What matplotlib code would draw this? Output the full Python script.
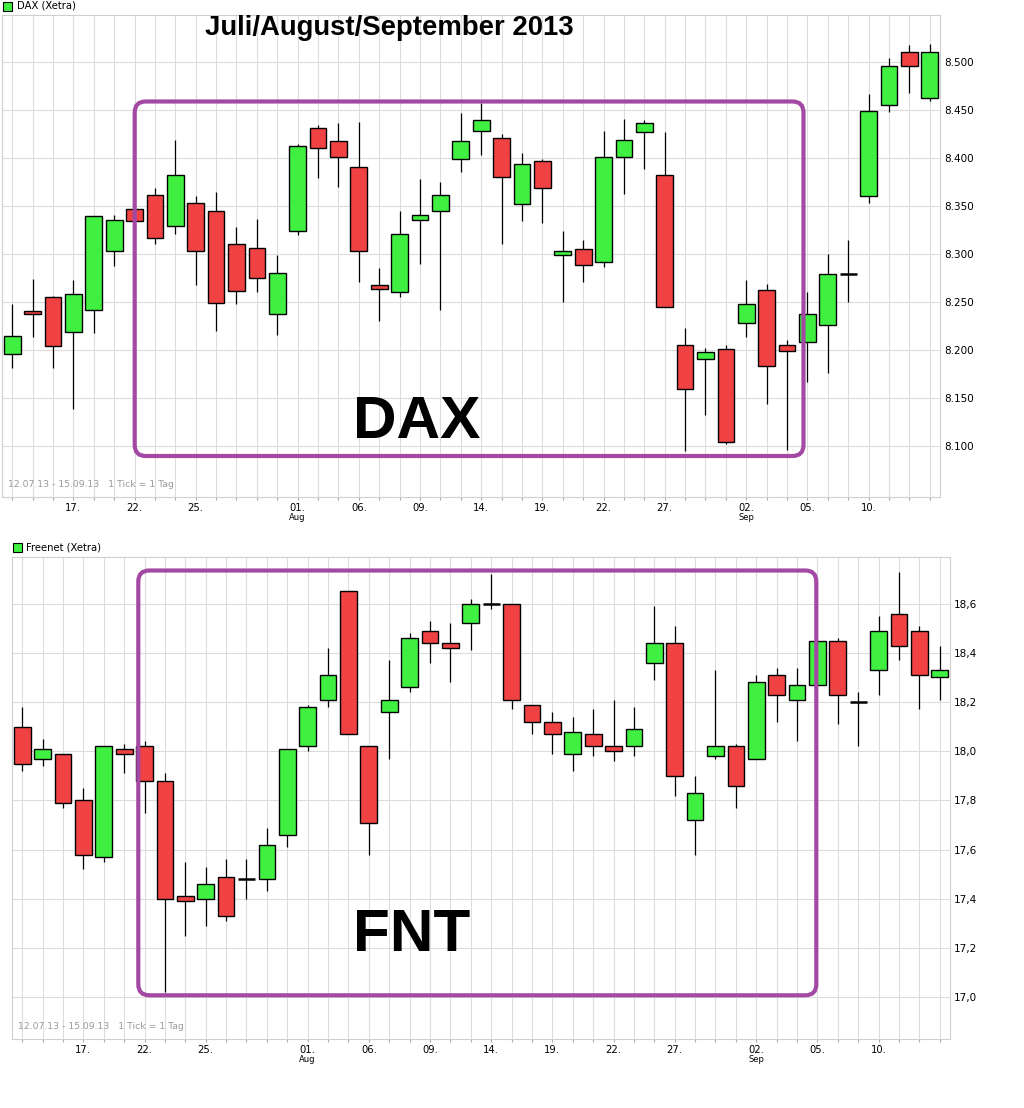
import numpy as np
import matplotlib.pyplot as plt
from matplotlib.patches import FancyBboxPatch, Rectangle
from matplotlib.transforms import IdentityTransform

plt.close("all")

# trading days 12.07.13 - 13.09.13 (index positions on the x axis)
tick_pos = [3, 6, 9, 14, 17, 20, 23, 26, 29, 32, 36, 39, 42]
tick_lbl = ["17.", "22.", "25.", "01.", "06.", "09.", "14.", "19.", "22.", "27.", "02.", "05.", "10."]
month_pos = [14, 36]
month_lbl = ["Aug", "Sep"]

# DAX (Xetra)
dax_open = [8196, 8241, 8255, 8219, 8242, 8303, 8347, 8362, 8329, 8353,
            8345, 8310, 8306, 8238, 8324, 8431, 8418, 8391, 8268, 8260,
            8336, 8345, 8399, 8428, 8421, 8352, 8397, 8299, 8305, 8292,
            8401, 8427, 8382, 8205, 8191, 8201, 8228, 8263, 8205, 8208,
            8226, 8279, 8361, 8455, 8510, 8463]
dax_high = [8248, 8274, 8256, 8273, 8340, 8341, 8347, 8369, 8419, 8360,
            8365, 8328, 8337, 8299, 8415, 8434, 8437, 8438, 8285, 8345,
            8378, 8375, 8447, 8457, 8425, 8405, 8399, 8324, 8315, 8428,
            8441, 8440, 8427, 8223, 8202, 8205, 8273, 8269, 8210, 8261,
            8300, 8315, 8467, 8504, 8518, 8519]
dax_low = [8181, 8214, 8181, 8139, 8218, 8288, 8334, 8310, 8321, 8268,
           8220, 8248, 8260, 8216, 8320, 8379, 8370, 8271, 8230, 8255,
           8290, 8242, 8386, 8403, 8311, 8334, 8332, 8250, 8271, 8287,
           8363, 8389, 8245, 8095, 8132, 8102, 8214, 8144, 8096, 8167,
           8176, 8250, 8353, 8448, 8468, 8459]
dax_close = [8215, 8238, 8204, 8258, 8340, 8335, 8334, 8317, 8382, 8303,
             8249, 8262, 8275, 8280, 8413, 8410, 8401, 8303, 8264, 8321,
             8341, 8362, 8418, 8440, 8380, 8394, 8369, 8303, 8289, 8401,
             8419, 8437, 8245, 8160, 8198, 8104, 8248, 8183, 8199, 8238,
             8279, 8279, 8449, 8496, 8496, 8510]
dax_ticks = [8100, 8150, 8200, 8250, 8300, 8350, 8400, 8450, 8500]

# Freenet (Xetra)
fnt_open = [18.10, 17.97, 17.99, 17.80, 17.57, 18.01, 18.02, 17.88, 17.41, 17.40,
            17.49, 17.48, 17.48, 17.66, 18.02, 18.21, 18.65, 18.02, 18.16, 18.26,
            18.49, 18.44, 18.52, 18.60, 18.60, 18.19, 18.12, 17.99, 18.07, 18.02,
            18.02, 18.36, 18.44, 17.72, 17.98, 18.02, 17.97, 18.31, 18.21, 18.27,
            18.45, 18.20, 18.33, 18.56, 18.49, 18.30]
fnt_high = [18.18, 18.05, 17.99, 17.85, 18.02, 18.03, 18.04, 17.91, 17.55, 17.53,
            17.56, 17.56, 17.69, 18.01, 18.19, 18.42, 18.65, 18.02, 18.37, 18.48,
            18.53, 18.52, 18.62, 18.72, 18.60, 18.19, 18.16, 18.14, 18.17, 18.21,
            18.18, 18.59, 18.51, 17.90, 18.33, 18.03, 18.31, 18.34, 18.34, 18.45,
            18.46, 18.24, 18.55, 18.73, 18.51, 18.43]
fnt_low = [17.92, 17.94, 17.77, 17.52, 17.55, 17.91, 17.75, 17.02, 17.25, 17.29,
           17.31, 17.40, 17.43, 17.61, 18.00, 18.18, 18.07, 17.58, 17.97, 18.24,
           18.36, 18.28, 18.41, 18.58, 18.17, 18.07, 17.99, 17.92, 17.98, 17.96,
           17.98, 18.29, 17.82, 17.58, 17.97, 17.77, 17.97, 18.12, 18.04, 18.27,
           18.11, 18.02, 18.23, 18.37, 18.17, 18.21]
fnt_close = [17.95, 18.01, 17.79, 17.58, 18.02, 17.99, 17.88, 17.40, 17.39, 17.46,
             17.33, 17.48, 17.62, 18.01, 18.18, 18.31, 18.07, 17.71, 18.21, 18.46,
             18.44, 18.42, 18.60, 18.60, 18.21, 18.12, 18.07, 18.08, 18.02, 18.00,
             18.09, 18.44, 17.90, 17.83, 18.02, 17.86, 18.28, 18.23, 18.27, 18.45,
             18.23, 18.20, 18.49, 18.43, 18.31, 18.33]
fnt_ticks = [17.0, 17.2, 17.4, 17.6, 17.8, 18.0, 18.2, 18.4, 18.6]

GREEN = "#40F040"
RED = "#F04242"
PURPLE = "#A349A4"
GRID = "#DCDCDC"

W, H = 1024, 1108
fig = plt.figure(figsize=(W / 100, H / 100), dpi=100)


def box(x0, y0, x1, y1):
    return [x0 / W, 1 - y1 / H, (x1 - x0) / W, (y1 - y0) / H]


def candles(ax, o, h, l, c):
    o, h, l, c = map(np.asarray, (o, h, l, c))
    x = np.arange(len(o))
    ax.vlines(x, l, h, color="black", lw=0.9, zorder=2)
    up = c > o
    dn = c < o
    dj = c == o
    ax.bar(x[up], (c - o)[up], bottom=o[up], width=0.82, color=GREEN,
           edgecolor="black", lw=1.0, zorder=3)
    ax.bar(x[dn], (o - c)[dn], bottom=c[dn], width=0.82, color=RED,
           edgecolor="black", lw=1.0, zorder=3)
    ax.hlines(c[dj], x[dj] - 0.41, x[dj] + 0.41, color="black", lw=1.8, zorder=3)


def style(ax, ylim, yticks, ylabels):
    n = len(dax_open)
    ax.set_xlim(-0.5, n - 0.5)
    ax.set_ylim(*ylim)
    ax.set_axisbelow(True)
    ax.set_xticks(np.arange(n))
    labels = [""] * n
    for p, t in zip(tick_pos, tick_lbl):
        labels[p] = t
    ax.set_xticklabels(labels)
    ax.yaxis.tick_right()
    ax.set_yticks(yticks)
    ax.set_yticklabels(ylabels)
    ax.grid(True, color=GRID, lw=0.8)
    for s in ax.spines.values():
        s.set_color("#CFCFCF")
        s.set_linewidth(0.8)
    ax.tick_params(axis="x", length=2.5, color="#AAAAAA", pad=1.5, labelsize=7.2)
    ax.tick_params(axis="y", length=0, pad=3, labelsize=7.5)
    for p, m in zip(month_pos, month_lbl):
        ax.text(p, -0.042, m, transform=ax.get_xaxis_transform(),
                ha="center", va="center", fontsize=6)
    ax.text(0.0065, 0.025, "12.07.13 - 15.09.13   1 Tick = 1 Tag",
            transform=ax.transAxes, color="#999999", fontsize=6.7, va="center")


# top: DAX
ax1 = fig.add_axes(box(2, 15, 940, 497))
candles(ax1, dax_open, dax_high, dax_low, dax_close)
style(ax1, (8047, 8549), dax_ticks,
      [f"{v:,.0f}".replace(",", ".") for v in dax_ticks])

# bottom: Freenet
ax2 = fig.add_axes(box(12, 557, 950, 1039))
candles(ax2, fnt_open, fnt_high, fnt_low, fnt_close)
style(ax2, (16.83, 18.79), fnt_ticks,
      [f"{v:.1f}".replace(".", ",") for v in fnt_ticks])

# legends
fig.add_artist(Rectangle((3, H - 11), 9, 9, transform=IdentityTransform(),
                         facecolor=GREEN, edgecolor="black", lw=0.8))
fig.text(17 / W, 1 - 6 / H, "DAX (Xetra)", fontsize=7.2, va="center")
fig.add_artist(Rectangle((13, H - 552), 9, 9, transform=IdentityTransform(),
                         facecolor=GREEN, edgecolor="black", lw=0.8))
fig.text(26 / W, 1 - 547.5 / H, "Freenet (Xetra)", fontsize=7.2, va="center")

# annotations
fig.text(205 / W, 1 - 35 / H, "Juli/August/September 2013", family="Liberation Sans",
         weight="bold", fontsize=19.8, va="baseline", ha="left")
fig.text(353 / W, 1 - 438 / H, "DAX", family="Liberation Sans",
         weight="bold", fontsize=43.5, va="baseline", ha="left")
fig.text(353 / W, 1 - 951 / H, "FNT", family="Liberation Sans",
         weight="bold", fontsize=43.5, va="baseline", ha="left")

for x0, y0, x1, y1 in [(134.7, 101.5, 803.5, 456), (138.3, 570.5, 816.3, 995.3)]:
    fig.add_artist(FancyBboxPatch((x0, H - y1), x1 - x0, y1 - y0,
                                  boxstyle="round,pad=0,rounding_size=11",
                                  transform=IdentityTransform(), fill=False,
                                  edgecolor=PURPLE, lw=3.0, zorder=5))

plt.savefig("out.png", dpi=100)
